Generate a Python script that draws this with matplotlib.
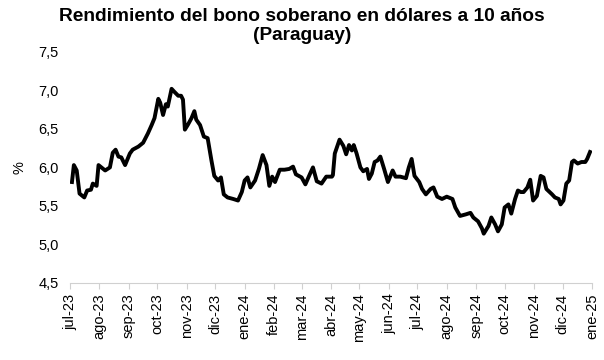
import numpy as np
import pandas as pd
import matplotlib
matplotlib.use("Agg")
import matplotlib.pyplot as plt
import matplotlib.dates as mdates
from matplotlib.ticker import FuncFormatter, MultipleLocator

# rendimiento del bono a 10 anios
fechas = [
    "2023-07-03", "2023-07-05", "2023-07-08", "2023-07-11", "2023-07-16", "2023-07-19",
    "2023-07-23", "2023-07-25", "2023-07-29", "2023-07-31", "2023-08-03", "2023-08-07",
    "2023-08-12", "2023-08-15", "2023-08-18", "2023-08-21", "2023-08-24", "2023-08-28",
    "2023-09-02", "2023-09-05", "2023-09-11", "2023-09-16", "2023-09-21", "2023-09-25",
    "2023-09-28", "2023-10-02", "2023-10-04", "2023-10-07", "2023-10-10", "2023-10-12",
    "2023-10-16", "2023-10-19", "2023-10-23", "2023-10-26", "2023-10-28", "2023-10-30",
    "2023-11-02", "2023-11-06", "2023-11-09", "2023-11-11", "2023-11-15", "2023-11-19",
    "2023-11-23", "2023-11-27", "2023-11-30", "2023-12-04", "2023-12-07", "2023-12-10",
    "2023-12-14", "2023-12-20", "2023-12-25", "2023-12-29", "2024-01-01", "2024-01-04",
    "2024-01-07", "2024-01-12", "2024-01-16", "2024-01-20", "2024-01-24", "2024-01-27",
    "2024-01-30", "2024-02-02", "2024-02-07", "2024-02-12", "2024-02-17", "2024-02-21",
    "2024-02-24", "2024-03-01", "2024-03-05", "2024-03-10", "2024-03-13", "2024-03-17",
    "2024-03-22", "2024-03-27", "2024-04-02", "2024-04-03", "2024-04-05", "2024-04-10",
    "2024-04-14", "2024-04-17", "2024-04-20", "2024-04-23", "2024-04-25", "2024-04-28",
    "2024-05-02", "2024-05-05", "2024-05-09", "2024-05-11", "2024-05-14", "2024-05-17",
    "2024-05-20", "2024-05-23", "2024-05-27", "2024-05-31", "2024-06-05", "2024-06-08",
    "2024-06-13", "2024-06-19", "2024-06-22", "2024-06-25", "2024-06-28", "2024-07-03",
    "2024-07-06", "2024-07-10", "2024-07-15", "2024-07-18", "2024-07-22", "2024-07-27",
    "2024-08-01", "2024-08-07", "2024-08-10", "2024-08-15", "2024-08-21", "2024-08-26",
    "2024-08-29", "2024-09-03", "2024-09-07", "2024-09-09", "2024-09-14", "2024-09-17",
    "2024-09-21", "2024-09-24", "2024-09-28", "2024-10-01", "2024-10-05", "2024-10-08",
    "2024-10-12", "2024-10-15", "2024-10-18", "2024-10-21", "2024-10-25", "2024-10-28",
    "2024-10-31", "2024-11-04", "2024-11-08", "2024-11-11", "2024-11-14", "2024-11-20",
    "2024-11-23", "2024-11-27", "2024-11-29", "2024-12-02", "2024-12-05", "2024-12-08",
    "2024-12-11", "2024-12-13", "2024-12-17", "2024-12-21", "2024-12-25", "2024-12-27",
    "2024-12-30",
]
rendimiento = [
    5.81, 6.03, 5.96, 5.66, 5.61, 5.70,
    5.71, 5.79, 5.76, 6.03, 6.00, 5.96,
    6.00, 6.19, 6.23, 6.14, 6.13, 6.03,
    6.18, 6.23, 6.27, 6.32, 6.44, 6.55,
    6.64, 6.89, 6.84, 6.68, 6.82, 6.79,
    7.02, 6.98, 6.93, 6.93, 6.88, 6.49,
    6.55, 6.64, 6.73, 6.62, 6.55, 6.40,
    6.38, 6.09, 5.89, 5.83, 5.87, 5.65,
    5.61, 5.59, 5.57, 5.68, 5.83, 5.87,
    5.74, 5.83, 5.98, 6.16, 6.03, 5.76,
    5.88, 5.81, 5.97, 5.97, 5.98, 6.01,
    5.91, 5.87, 5.78, 5.92, 6.00, 5.82,
    5.79, 5.88, 5.88, 5.90, 6.18, 6.36,
    6.28, 6.17, 6.29, 6.22, 6.29, 6.18,
    6.00, 5.95, 5.98, 5.85, 5.92, 6.07,
    6.09, 6.14, 5.98, 5.81, 5.96, 5.88,
    5.88, 5.86, 6.00, 6.11, 5.89, 5.81,
    5.72, 5.65, 5.72, 5.74, 5.62, 5.59,
    5.62, 5.59, 5.48, 5.37, 5.39, 5.41,
    5.35, 5.30, 5.21, 5.14, 5.24, 5.35,
    5.26, 5.17, 5.26, 5.48, 5.52, 5.40,
    5.59, 5.70, 5.68, 5.68, 5.74, 5.84,
    5.57, 5.63, 5.89, 5.87, 5.72, 5.65,
    5.61, 5.59, 5.52, 5.57, 5.79, 5.83,
    6.07, 6.09, 6.05, 6.07, 6.07, 6.11,
    6.20,
]

meses = ["ene", "feb", "mar", "abr", "may", "jun",
         "jul", "ago", "sep", "oct", "nov", "dic"]

fechas = pd.to_datetime(fechas)

plt.rcParams["font.family"] = ["Liberation Sans", "DejaVu Sans"]

fig = plt.figure(figsize=(6.04, 3.60), dpi=100)
ax = fig.add_axes([0.116, 0.214, 0.864, 0.642])

ax.plot(fechas, rendimiento, color="black", linewidth=2.8, solid_joinstyle="round")

ax.set_ylim(4.5, 7.5)
ax.yaxis.set_major_locator(MultipleLocator(0.5))
ax.yaxis.set_major_formatter(FuncFormatter(lambda v, p: f"{v:.1f}".replace(".", ",")))
ax.set_xlim(pd.Timestamp("2023-07-01"), pd.Timestamp("2025-01-01"))
ax.xaxis.set_major_locator(mdates.MonthLocator())
ax.xaxis.set_major_formatter(FuncFormatter(
    lambda v, p: "%s-%s" % (meses[mdates.num2date(v).month - 1], mdates.num2date(v).strftime("%y"))))

for s in ["top", "right", "left"]:
    ax.spines[s].set_visible(False)
ax.spines["bottom"].set_color("#d0d0d0")
ax.tick_params(axis="x", colors="#d0d0d0", length=4, labelcolor="black",
               labelsize=10.5, labelrotation=90)
ax.tick_params(axis="y", length=0, labelsize=10.5, pad=8)

ax.set_ylabel("%", fontsize=10.5, labelpad=9)
fig.text(0.5, 0.978, "Rendimiento del bono soberano en dólares a 10 años\n(Paraguay)",
         ha="center", va="top", fontsize=13.8, fontweight="bold", linespacing=1.15)

fig.savefig("out.png", dpi=100)
